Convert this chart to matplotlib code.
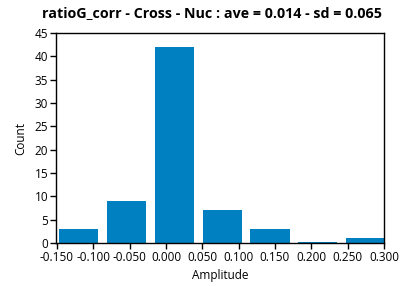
import numpy as np
import matplotlib.pyplot as plt

# histogram bins (7 bins, width ~0.0658)
bin_lo = -0.153
bin_w = 0.0658
counts = [3, 9, 42, 7, 3, 0.2, 1]
xticks = [-0.15, -0.10, -0.05, 0.0, 0.05, 0.10, 0.15, 0.20, 0.25, 0.30]
yticks = [0, 5, 10, 15, 20, 25, 30, 35, 40, 45]

plt.rcParams['font.family'] = ['Open Sans', 'DejaVu Sans']

fig = plt.figure(figsize=(4.08, 2.87), dpi=100)
ax = fig.add_axes([0.137, 0.153, 0.804, 0.732])

centers = bin_lo + bin_w * (np.arange(len(counts)) + 0.5)
ax.bar(centers, counts, width=bin_w * 0.82, color='#0080c0', clip_on=True)

ax.set_xlim(-0.1515, 0.3)
ax.set_ylim(0, 45)
ax.set_xticks(xticks)
ax.set_xticklabels(['%.3f' % t for t in xticks])
ax.set_yticks(yticks)
ax.tick_params(direction='out', length=4, width=1, labelsize=8.5, pad=1.5)
for s in ax.spines.values():
    s.set_linewidth(1)

ax.set_xlabel('Amplitude', fontsize=8.5, labelpad=4)
ax.set_ylabel('Count', fontsize=8.5, labelpad=5)
fig.text(0.52, 0.955, 'ratioG_corr - Cross - Nuc : ave = 0.014 - sd = 0.065',
         ha='center', va='center', fontsize=10.3, fontweight='bold')

fig.savefig('out.png', dpi=100)
